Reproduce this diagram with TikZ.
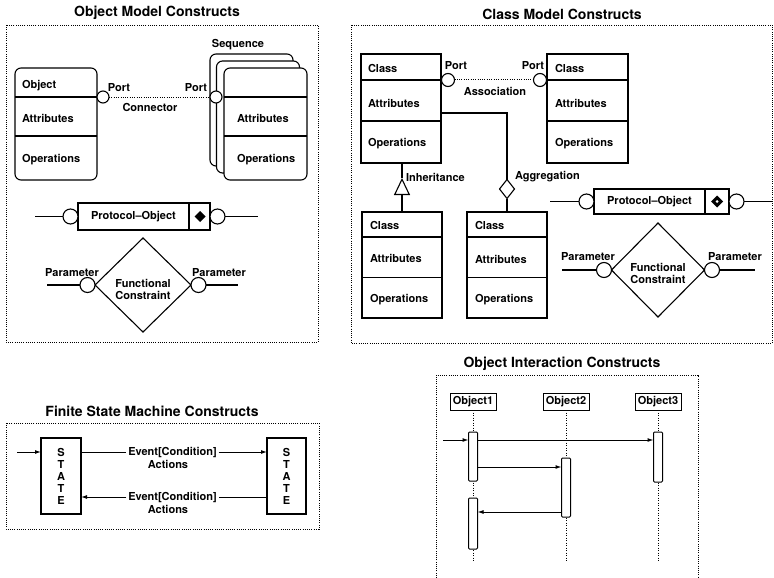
\documentclass[tikz,border=0pt]{standalone}
\usepackage{fontspec}
\setmainfont{TeX Gyre Heros}
\usetikzlibrary{shapes.geometric,arrows.meta,calc}

\begin{document}
\begin{tikzpicture}[x=1pt,y=-1pt,
  every node/.style={font=\fontsize{11}{12}\selectfont\bfseries, inner sep=0pt, outer sep=0pt},
  title/.style={font=\fontsize{14}{16}\selectfont\bfseries},
  panel/.style={line width=0.8pt, dash pattern=on 1pt off 1.2pt},
  link/.style={line width=1pt, dash pattern=on 1pt off 1.3pt},
  lifeline/.style={line width=0.8pt, dash pattern=on 1pt off 1.5pt},
  solid line/.style={line width=1.1pt},
  box/.style={draw, line width=1.1pt, fill=white},
  rbox/.style={box, rounded corners=6pt},
  port/.style={circle, draw, line width=1.1pt, fill=white, minimum size=13pt},
  pcircle/.style={circle, draw, line width=1.1pt, fill=white, minimum size=15pt},
  constraint/.style={diamond, draw, line width=1.1pt, fill=white},
  lbl/.style={anchor=west},
  act/.style={draw, line width=1pt, fill=white, rounded corners=1pt, minimum width=9pt},
  msg/.style={line width=1pt, -{Latex[length=6pt,width=4pt]}},
  trans/.style={line width=1pt, -{Latex[length=6pt,width=4pt]}}
]
\useasboundingbox (0,0) rectangle (774,578);

% ---------------- Object model panel ----------------
\node[title] (tobj) at (157,13) {Object Model Constructs};
\draw[panel] (6,25) rectangle (318,342);

% single object
\node[rbox, minimum width=82pt, minimum height=112pt] (obj) at (56,124) {};
\draw[solid line] (15,97) -- (97,97);
\draw[solid line] (15,136) -- (97,136);
\node[lbl] (objname) at (22,86) {Object};
\node[lbl] (objattr) at (22,118) {Attributes};
\node[lbl] (objops) at (22,160) {Operations};

% sequence of objects
\node[rbox, minimum width=83pt, minimum height=112pt] (sq3) at (251.5,110) {};
\node[rbox, minimum width=83pt, minimum height=112pt] (sq2) at (258,117) {};
\node[rbox, minimum width=83pt, minimum height=112pt] (sq1) at (265.5,124) {};
\draw[solid line] (224,97) -- (307,97);
\draw[solid line] (224,136) -- (307,136);
\node (seqlbl) at (238,45) {Sequence};
\node[lbl] (sqattr) at (237,118) {Attributes};
\node[lbl] (sqops) at (237,160) {Operations};

% ports and connector
\node[port, minimum size=12pt] (op1) at (103,97) {};
\node[port, minimum size=12pt] (op2) at (216,97) {};
\draw[link] (op1) -- (op2);
\node (oport1) at (119,88) {Port};
\node (oport2) at (196,88) {Port};
\node (oconn) at (150,107) {Connector};

% protocol object
\node[box, minimum width=132pt, minimum height=27pt] (po1) at (144,216.5) {};
\draw[solid line] (189,203) -- (189,230);
\node (po1txt) at (133.5,217) {Protocol–Object};
\node[diamond, fill=black, minimum size=11pt] (po1sym) at (200,216.5) {};
\node[pcircle] (po1l) at (70.5,216.5) {};
\node[pcircle] (po1r) at (217.5,216.5) {};
\coordinate (po1le) at (35,216.5);
\coordinate (po1re) at (258,216.5);
\draw[solid line] (po1le) -- (po1l);
\draw[solid line] (po1r) -- (po1re);

% functional constraint
\node[constraint, minimum width=96pt, minimum height=94pt] (fc1) at (143,285) {};
\node[align=center] (fc1txt) at (143,289) {Functional\\Constraint};
\node[pcircle] (fc1l) at (87.5,285) {};
\node[pcircle] (fc1r) at (198.5,285) {};
\coordinate (fc1le) at (47,285);
\coordinate (fc1re) at (238,285);
\draw[solid line] (fc1le) -- (fc1l);
\draw[solid line] (fc1r) -- (fc1re);
\node (fc1p1) at (72,273) {Parameter};
\node (fc1p2) at (219,273) {Parameter};

% ---------------- Class model panel ----------------
\node[title] (tcls) at (562,14) {Class Model Constructs};
\draw[panel] (351,25) rectangle (772,343);

\node[box, minimum width=80pt, minimum height=109pt] (c1) at (401,108.5) {};
\draw[solid line] (361,80) -- (441,80);
\draw[solid line] (361,121) -- (441,121);
\node[lbl] (c1n) at (368,68) {Class};
\node[lbl] (c1a) at (368,103) {Attributes};
\node[lbl] (c1o) at (368,144) {Operations};

\node[box, minimum width=81pt, minimum height=109pt] (c2) at (587.5,108.5) {};
\draw[solid line] (547,80) -- (628,80);
\draw[solid line] (547,121) -- (628,121);
\node[lbl] (c2n) at (555,68) {Class};
\node[lbl] (c2a) at (555,103) {Attributes};
\node[lbl] (c2o) at (555,144) {Operations};

\node[port] (cp1) at (448,80) {};
\node[port] (cp2) at (540,80) {};
\draw[link] (cp1) -- (cp2);
\node (cport1) at (456,66) {Port};
\node (cport2) at (533,66) {Port};
\node (cassoc) at (495,91) {Association};

\node[box, minimum width=80pt, minimum height=106pt] (c3) at (402,265) {};
\draw[solid line] (362,237) -- (442,237);
\draw[solid line] (362,277.5) -- (442,277.5);
\node[lbl] (c3n) at (370,225) {Class};
\node[lbl] (c3a) at (370,258) {Attributes};
\node[lbl] (c3o) at (370,300) {Operations};

\node[box, minimum width=80pt, minimum height=106pt] (c4) at (507,265) {};
\draw[solid line] (467,237) -- (547,237);
\draw[solid line] (467,277.5) -- (547,277.5);
\node[lbl] (c4n) at (475,225) {Class};
\node[lbl] (c4a) at (475,259) {Attributes};
\node[lbl] (c4o) at (475,300) {Operations};

% inheritance
\coordinate (inh) at (402,178);
\draw[solid line, -{Triangle[open, length=17pt, width=16pt, line width=1.1pt]}] (c3.north) -- (inh);
\draw[solid line] (inh) -- (c1.south -| inh);
\node[lbl] (inhl) at (406,177) {Inheritance};

% aggregation
\node[diamond, draw, line width=1.1pt, fill=white, minimum width=15pt, minimum height=19pt] (agg) at (507,189) {};
\draw[solid line] (c1.east |- 0,113) -| (agg.north);
\draw[solid line] (agg.south) -- (c4.north);
\node[lbl] (aggl) at (515,177) {Aggregation};

% protocol object
\node[box, minimum width=135pt, minimum height=25pt] (po2) at (661.5,201.5) {};
\draw[solid line] (705,189) -- (705,214);
\node (po2txt) at (649.5,202) {Protocol–Object};
\node[diamond, fill=black, minimum size=12pt] (po2sym) at (717,201.5) {};
\node[circle, fill=white, minimum size=3pt] (po2dot) at (717,201.5) {};
\node[pcircle] (po2l) at (586.5,201.5) {};
\node[pcircle] (po2r) at (736.5,201.5) {};
\coordinate (po2le) at (550,201.5);
\coordinate (po2re) at (773,201.5);
\draw[solid line] (po2le) -- (po2l);
\draw[solid line] (po2r) -- (po2re);

% functional constraint
\node[constraint, minimum width=93pt, minimum height=94pt] (fc2) at (658,270) {};
\node[align=center] (fc2txt) at (658,273) {Functional\\Constraint};
\node[pcircle] (fc2l) at (604,270) {};
\node[pcircle] (fc2r) at (712,270) {};
\coordinate (fc2le) at (562,270);
\coordinate (fc2re) at (755,270);
\draw[solid line] (fc2le) -- (fc2l);
\draw[solid line] (fc2r) -- (fc2re);
\node (fc2p1) at (588,257) {Parameter};
\node (fc2p2) at (735,257) {Parameter};

% ---------------- Finite state machine panel ----------------
\node[title] (tfsm) at (152,411) {Finite State Machine Constructs};
\draw[panel] (6,423) rectangle (319,529);

\node[box, minimum width=40pt, minimum height=76pt, align=center] (s1) at (61,476) {S\\T\\A\\T\\E};
\node[box, minimum width=39pt, minimum height=76pt, align=center] (s2) at (286.5,476) {S\\T\\A\\T\\E};

\coordinate (fsmin) at (17,452);
\draw[trans] (fsmin) -- (s1.west |- 0,452);

\node[inner xsep=2pt] (ev1) at (172.5,452) {Event[Condition]};
\node (ac1) at (168,464) {Actions};
\draw[line width=1pt] (s1.east |- ev1) -- (ev1.west);
\draw[trans] (ev1.east) -- (s2.west |- ev1);

\node[inner xsep=2pt] (ev2) at (172.5,497) {Event[Condition]};
\node (ac2) at (168,509) {Actions};
\draw[line width=1pt] (s2.west |- ev2) -- (ev2.east);
\draw[trans] (ev2.west) -- (s1.east |- ev2);

% ---------------- Object interaction panel ----------------
\node[title] (tint) at (562,364) {Object Interaction Constructs};
\draw[panel] (436,578) |- (698,375) -- (698,578);

\node[draw, line width=0.9pt, minimum width=46pt, minimum height=17pt] (o1) at (473,401.5) {Object1};
\node[draw, line width=0.9pt, minimum width=46pt, minimum height=17pt] (o2) at (566,401.5) {Object2};
\node[draw, line width=0.9pt, minimum width=46pt, minimum height=17pt] (o3) at (658,401.5) {Object3};

\coordinate (l1e) at (473,561);
\coordinate (l2e) at (566,561);
\coordinate (l3e) at (658,561);
\draw[lifeline] (o1.south) -- (l1e);
\draw[lifeline] (o2.south) -- (l2e);
\draw[lifeline] (o3.south) -- (l3e);

\node[act, minimum height=49pt] (a11) at (473,456.5) {};
\node[act, minimum height=51pt] (a12) at (473,523.5) {};
\node[act, minimum height=59pt] (a21) at (566,487.5) {};
\node[act, minimum height=50pt] (a31) at (658,457) {};

\coordinate (inmsg) at (443,440);
\draw[msg] (inmsg) -- (a11.west |- 0,440);
\draw[msg] (a11.east |- 0,440) -- (a31.west |- 0,440);
\draw[msg] (a11.east |- 0,467) -- (a21.west |- 0,467);
\draw[msg] (a21.west |- 0,512) -- (a12.east |- 0,512);

\end{tikzpicture}
\end{document}
